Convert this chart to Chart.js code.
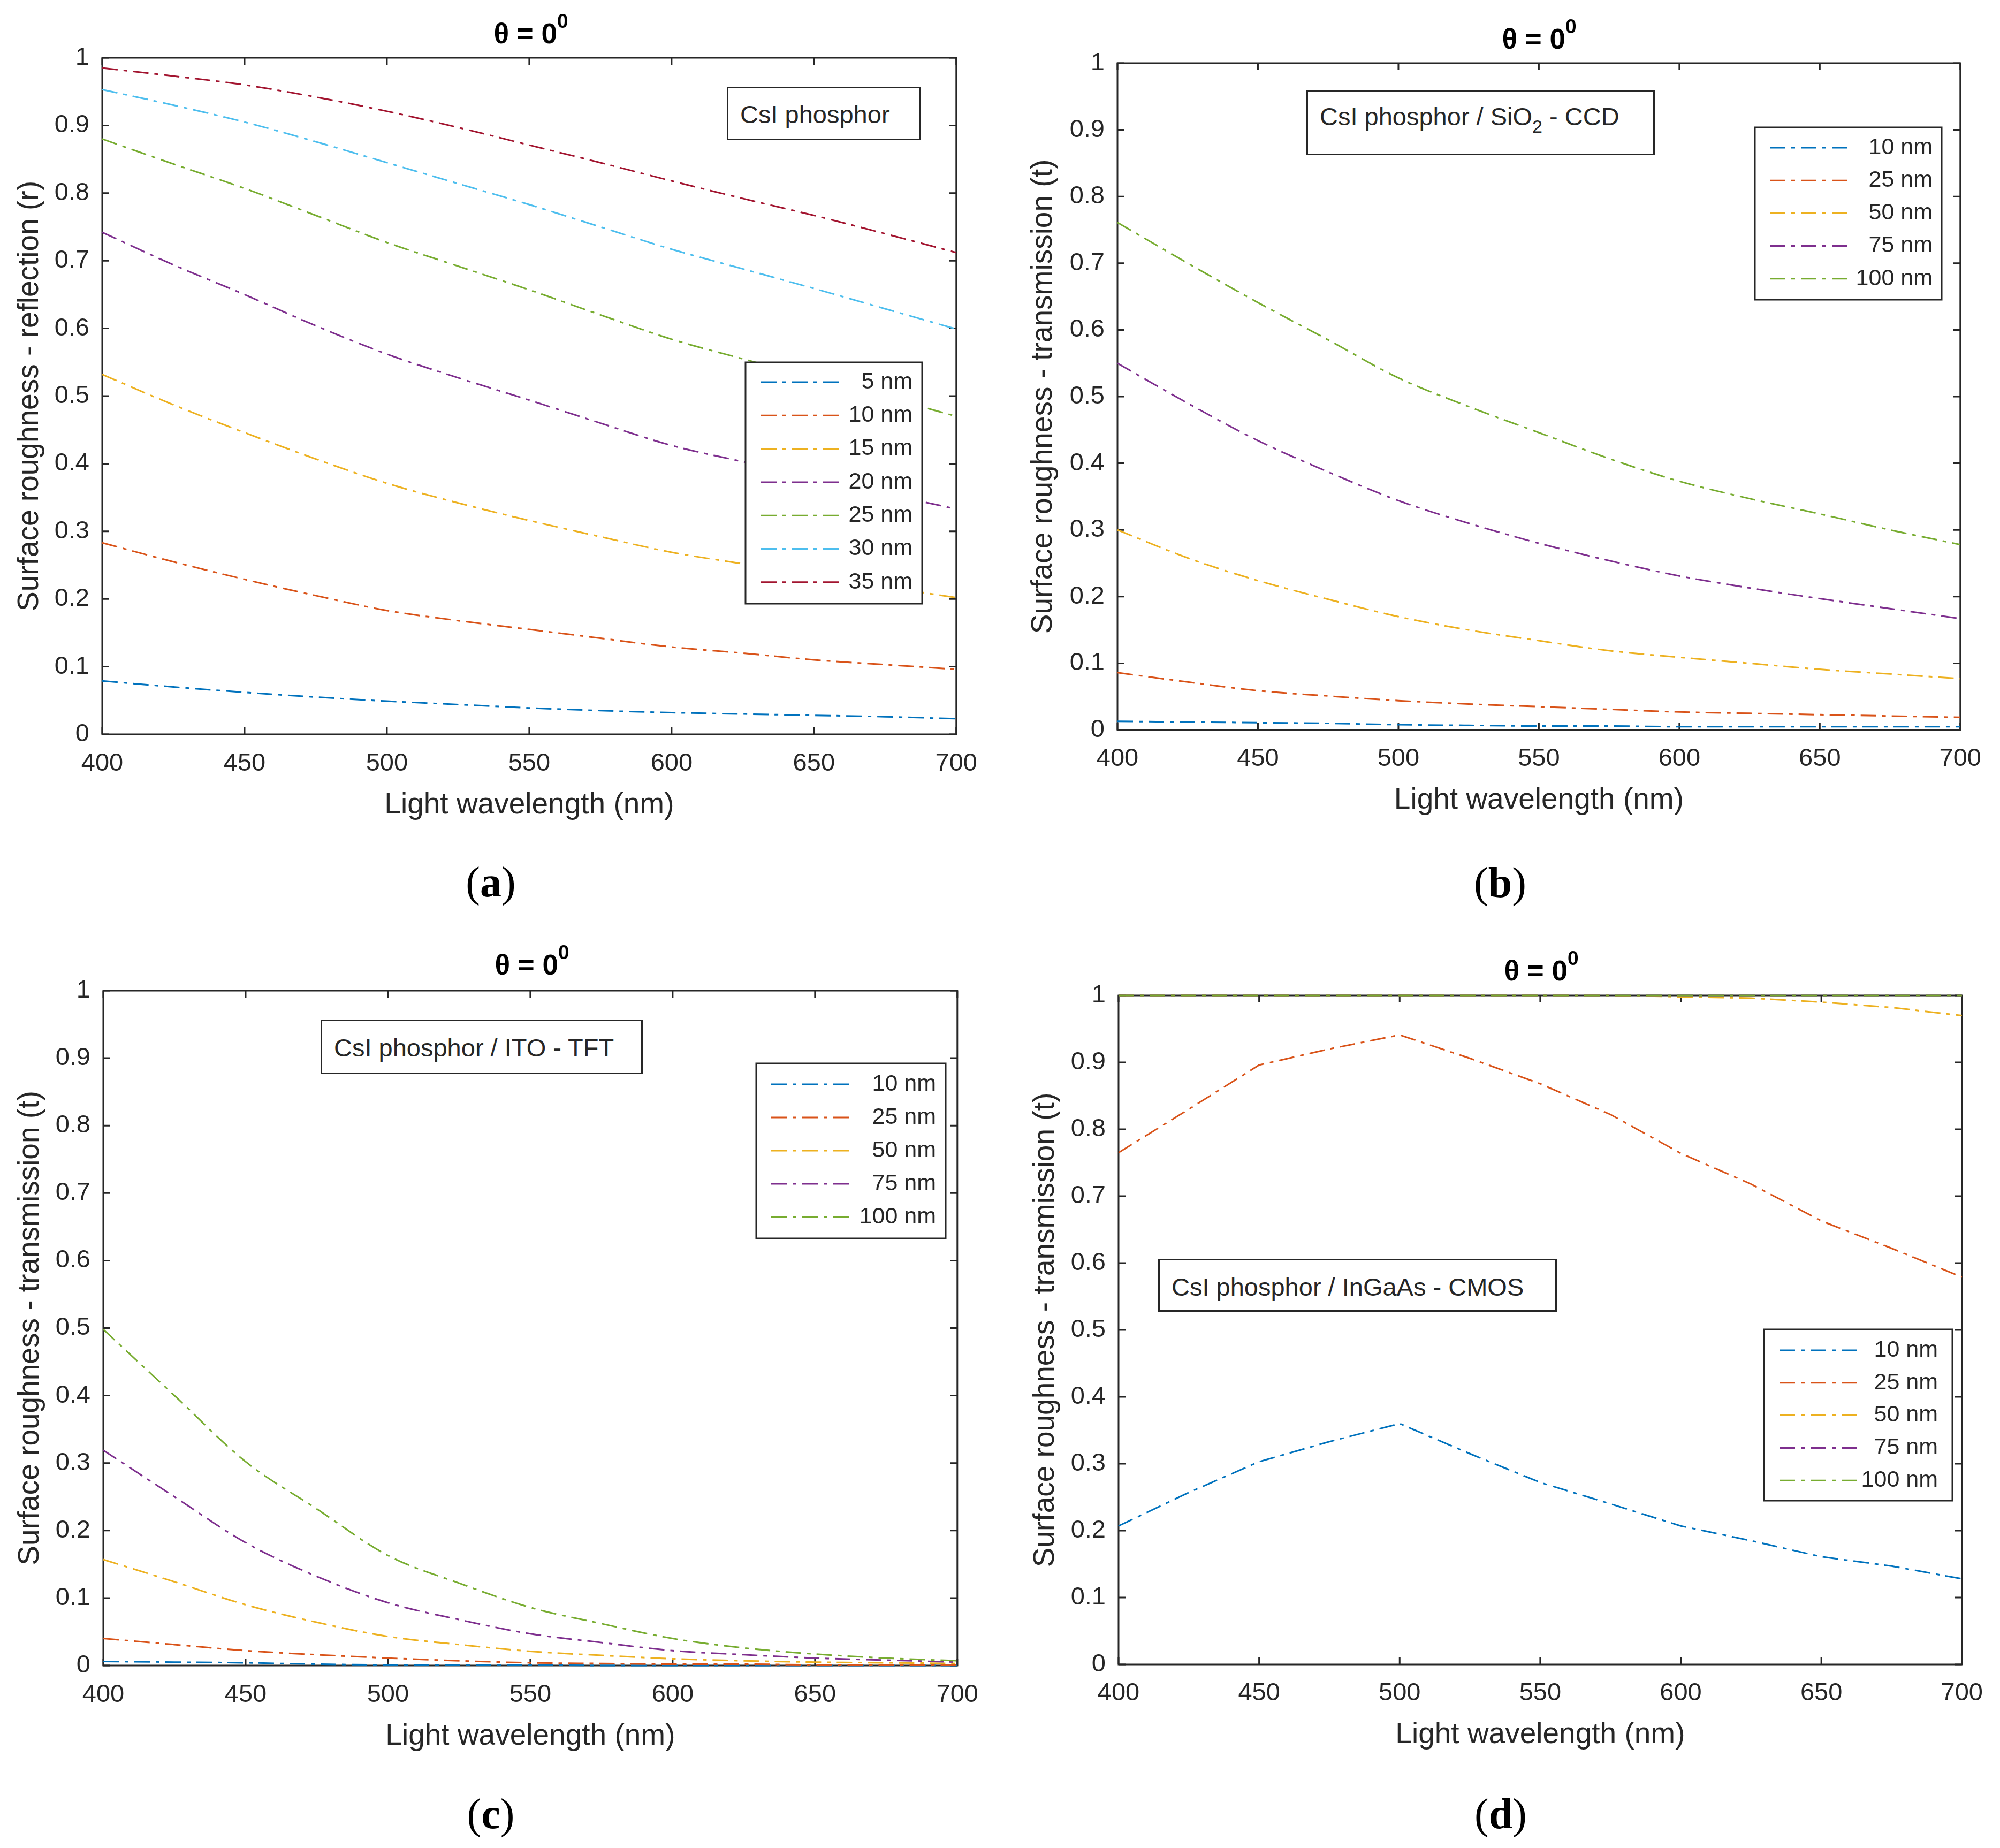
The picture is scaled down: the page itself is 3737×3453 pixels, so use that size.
<!DOCTYPE html>
<html>
<head>
<meta charset="utf-8">
<script src="https://cdn.jsdelivr.net/npm/chart.js@4.4.1/dist/chart.umd.min.js"></script>
<style>
html,body{margin:0;padding:0;background:#fff;}
#page{position:relative;width:3737px;height:3453px;background:#fff;overflow:hidden;font-family:"Liberation Sans",Arial,Helvetica,sans-serif;}
#page canvas{position:absolute;}
.title{position:absolute;transform:translate(-50%,-50%);font-weight:bold;font-size:53px;line-height:1;color:#000;white-space:nowrap;}
.title .sup{position:relative;top:-29px;font-size:37px;}
.note{position:absolute;border:3px solid #262626;background:#fff;box-sizing:border-box;z-index:2;}
.note span{position:absolute;left:22px;transform:translateY(-50%);font-size:47px;line-height:1;color:#262626;white-space:nowrap;}
.note sub{font-size:34px;vertical-align:baseline;position:relative;top:14px;}
.cap{position:absolute;transform:translate(-50%,-50%);font-family:"Liberation Serif","Times New Roman",serif;font-size:80px;line-height:1;color:#000;white-space:nowrap;}
</style>
</head>
<body>
<div id="page">
  <div class="title" style="left:992px;top:62px;">&theta; = 0<span class="sup">0</span></div>
  <div class="title" style="left:2876px;top:72px;">&theta; = 0<span class="sup">0</span></div>
  <div class="title" style="left:994px;top:1802px;">&theta; = 0<span class="sup">0</span></div>
  <div class="title" style="left:2880px;top:1813px;">&theta; = 0<span class="sup">0</span></div>

  <div class="note" style="left:1358px;top:162px;width:363px;height:100px;"><span style="top:48px;">CsI phosphor</span></div>
  <div class="note" style="left:2441px;top:168px;width:651px;height:122px;"><span style="top:46px;">CsI phosphor / SiO<sub>2</sub> - CCD</span></div>
  <div class="note" style="left:599px;top:1905px;width:602px;height:102px;"><span style="top:49px;">CsI phosphor / ITO - TFT</span></div>
  <div class="note" style="left:2164px;top:2352px;width:745px;height:99px;"><span style="top:49px;">CsI phosphor / InGaAs - CMOS</span></div>

  <div class="cap" style="left:917px;top:1648px;">(<b>a</b>)</div>
  <div class="cap" style="left:2803px;top:1649px;">(<b>b</b>)</div>
  <div class="cap" style="left:917px;top:3389px;">(<b>c</b>)</div>
  <div class="cap" style="left:2804px;top:3389px;">(<b>d</b>)</div>
</div>
<script>
// ---------------- DATA ----------------
const wavelengths = [400,425,450,475,500,525,550,575,600,625,650,675,700];
const xTickValues = [400,450,500,550,600,650,700];
const xTickLabels = ['400','450','500','550','600','650','700'];
const yTickValues = [0,0.1,0.2,0.3,0.4,0.5,0.6,0.7,0.8,0.9,1];
const yTickLabels = ['0','0.1','0.2','0.3','0.4','0.5','0.6','0.7','0.8','0.9','1'];

// (a) CsI phosphor - reflection
const aLabels = ['5 nm','10 nm','15 nm','20 nm','25 nm','30 nm','35 nm'];
const a5  = [0.079,0.070,0.062,0.055,0.049,0.044,0.039,0.035,0.032,0.030,0.028,0.026,0.023];
const a10 = [0.283,0.255,0.229,0.205,0.183,0.168,0.155,0.142,0.129,0.120,0.110,0.103,0.096];
const a15 = [0.532,0.487,0.446,0.407,0.371,0.342,0.316,0.292,0.269,0.252,0.235,0.218,0.202];
const a20 = [0.742,0.694,0.650,0.604,0.562,0.527,0.494,0.460,0.427,0.403,0.380,0.356,0.333];
const a25 = [0.880,0.843,0.807,0.767,0.727,0.692,0.657,0.620,0.584,0.555,0.527,0.499,0.470];
const a30 = [0.953,0.930,0.905,0.876,0.845,0.814,0.783,0.750,0.717,0.688,0.659,0.629,0.599];
const a35 = [0.985,0.973,0.960,0.942,0.921,0.897,0.871,0.845,0.818,0.792,0.767,0.740,0.712];

// (b) CsI phosphor / SiO2 - CCD
const tLabels = ['10 nm','25 nm','50 nm','75 nm','100 nm'];
const b10  = [0.013,0.012,0.011,0.010,0.008,0.007,0.006,0.006,0.005,0.005,0.005,0.005,0.005];
const b25  = [0.086,0.072,0.059,0.051,0.044,0.039,0.035,0.031,0.027,0.025,0.023,0.021,0.019];
const b50  = [0.300,0.258,0.224,0.196,0.170,0.150,0.134,0.119,0.109,0.100,0.091,0.084,0.077];
const b75  = [0.550,0.490,0.434,0.387,0.344,0.310,0.280,0.254,0.231,0.213,0.197,0.182,0.167];
const b100 = [0.761,0.700,0.641,0.585,0.528,0.485,0.446,0.407,0.373,0.347,0.324,0.300,0.278];

// (c) CsI phosphor / ITO - TFT
const c10  = [0.006,0.005,0.004,0.002,0.001,0.001,0.001,0.000,0.000,0.000,0.000,0.000,0.000];
const c25  = [0.040,0.031,0.022,0.016,0.011,0.007,0.004,0.003,0.002,0.002,0.001,0.001,0.001];
const c50  = [0.157,0.124,0.090,0.064,0.043,0.031,0.021,0.015,0.010,0.007,0.005,0.004,0.003];
const c75  = [0.319,0.250,0.182,0.132,0.093,0.068,0.047,0.034,0.022,0.016,0.011,0.008,0.005];
const c100 = [0.498,0.400,0.302,0.232,0.163,0.122,0.086,0.062,0.040,0.026,0.017,0.011,0.007];

// (d) CsI phosphor / InGaAs - CMOS
const d10  = [0.207,0.257,0.303,0.333,0.360,0.315,0.272,0.240,0.207,0.185,0.161,0.147,0.128];
const d25  = [0.765,0.830,0.896,0.920,0.941,0.906,0.868,0.822,0.764,0.718,0.663,0.622,0.579];
const d50  = [1,1,1,1,1,1,1,1,0.998,0.996,0.990,0.982,0.970];
const d75  = [1,1,1,1,1,1,1,1,1,1,1,1,1];
const d100 = [1,1,1,1,1,1,1,1,1,1,1,1,1];

const seriesColors = ['#0072BD','#D95319','#EDB120','#7E2F8E','#77AC30','#4DBEEE','#A2142F'];

// ---------------- LAYOUT (page pixels) ----------------
const FONT = '"Liberation Sans", Arial, Helvetica, sans-serif';
const panels = [
  {plot:[191,108,1793,1372], yTitleX:56, xTitleY:1505, xPad:27, smooth:true,
   yTitle:'Surface roughness - reflection (r)', labels:aLabels, series:[a5,a10,a15,a20,a25,a30,a35],
   legend:{box:[1393,677,1723,1128], row0:714, dy:62.3, line:[1422,1569], textRight:1705}},
  {plot:[2088,118,3668,1364], yTitleX:1950, xTitleY:1496, xPad:26, smooth:true,
   yTitle:'Surface roughness - transmission (t)', labels:tLabels, series:[b10,b25,b50,b75,b100],
   legend:{box:[3279,238,3628,560], row0:276, dy:61.2, line:[3307,3451], textRight:3611}},
  {plot:[193,1851,1795,3112], yTitleX:57, xTitleY:3245, xPad:27, smooth:true,
   yTitle:'Surface roughness - transmission (t)', labels:tLabels, series:[c10,c25,c50,c75,c100],
   legend:{box:[1413,1987,1767,2314], row0:2026, dy:62, line:[1441,1587], textRight:1749}},
  {plot:[2090,1860,3671,3110], yTitleX:1954, xTitleY:3242, xPad:26, smooth:false,
   yTitle:'Surface roughness - transmission (t)', labels:tLabels, series:[d10,d25,d50,d75,d100],
   legend:{box:[3296,2484,3648,2804], row0:2523, dy:60.8, line:[3325,3470], textRight:3621}}
];

// ---------------- PLUGINS ----------------
const boxPlugin = {
  id:'matlabBox',
  beforeDatasetsDraw(chart){
    const {ctx, chartArea:a, scales:{x, y}} = chart;
    const tl = 13;
    ctx.save();
    ctx.strokeStyle = '#262626';
    ctx.lineWidth = 3;
    ctx.setLineDash([]);
    ctx.strokeRect(a.left, a.top, a.right - a.left, a.bottom - a.top);
    ctx.beginPath();
    x.ticks.forEach(t => {
      const px = x.getPixelForValue(t.value);
      ctx.moveTo(px, a.bottom); ctx.lineTo(px, a.bottom - tl);
      ctx.moveTo(px, a.top); ctx.lineTo(px, a.top + tl);
    });
    y.ticks.forEach(t => {
      const py = y.getPixelForValue(t.value);
      ctx.moveTo(a.left, py); ctx.lineTo(a.left + tl, py);
      ctx.moveTo(a.right, py); ctx.lineTo(a.right - tl, py);
    });
    ctx.stroke();
    ctx.restore();
  }
};

const legendPlugin = {
  id:'matlabLegend',
  afterDraw(chart, args, opts){
    const ctx = chart.ctx;
    const ox = opts.ox, oy = opts.oy;
    const b = opts.box;
    const x0 = b[0]-ox, y0 = b[1]-oy, x1 = b[2]-ox, y1 = b[3]-oy;
    ctx.save();
    ctx.fillStyle = '#ffffff';
    ctx.fillRect(x0, y0, x1-x0, y1-y0);
    ctx.setLineDash([]);
    ctx.lineWidth = 3;
    ctx.strokeStyle = '#262626';
    ctx.strokeRect(x0, y0, x1-x0, y1-y0);
    chart.data.datasets.forEach((ds, i) => {
      const yy = opts.row0 - oy + i*opts.dy;
      ctx.beginPath();
      ctx.setLineDash(ds.borderDash);
      ctx.lineWidth = ds.borderWidth;
      ctx.strokeStyle = ds.borderColor;
      ctx.moveTo(opts.line[0]-ox, yy);
      ctx.lineTo(opts.line[1]-ox, yy);
      ctx.stroke();
      ctx.setLineDash([]);
      ctx.fillStyle = '#262626';
      ctx.font = '43px ' + FONT;
      ctx.textAlign = 'right';
      ctx.textBaseline = 'middle';
      ctx.fillText(ds.label, opts.textRight-ox, yy);
    });
    ctx.restore();
  }
};

// ---------------- BUILD ----------------
Chart.defaults.font.family = FONT;
const page = document.getElementById('page');

panels.forEach(p => {
  const [L,T,R,B] = p.plot;
  const cx0 = p.yTitleX - 37, cy0 = T - 60, cx1 = R + 60, cy1 = p.xTitleY + 37;
  const cv = document.createElement('canvas');
  cv.width = cx1 - cx0; cv.height = cy1 - cy0;
  cv.style.left = cx0 + 'px'; cv.style.top = cy0 + 'px';
  cv.style.width = cv.width + 'px'; cv.style.height = cv.height + 'px';
  page.insertBefore(cv, page.firstChild);
  const n = p.series.length;
  new Chart(cv, {
    type:'line',
    data:{
      datasets: p.series.map((vals, i) => ({
        label: p.labels[i],
        data: wavelengths.map((w, k) => ({x:w, y:vals[k]})),
        borderColor: seriesColors[i],
        backgroundColor: seriesColors[i],
        borderWidth: 3,
        borderDash: [29,11,7,11],
        pointRadius: 0,
        fill: false,
        clip: false,
        order: n - 1 - i,
        tension: 0,
        cubicInterpolationMode: p.smooth ? 'monotone' : 'default'
      }))
    },
    options:{
      responsive:false, animation:false, devicePixelRatio:1,
      events:[],
      layout:{padding:{left:0, top:T - cy0, right:cx1 - R, bottom:0}},
      plugins:{
        legend:{display:false}, tooltip:{enabled:false}, title:{display:false},
        matlabLegend:Object.assign({ox:cx0, oy:cy0}, p.legend)
      },
      scales:{
        x:{
          type:'linear', min:400, max:700,
          grid:{display:false, drawTicks:false}, border:{display:false},
          afterBuildTicks: s => { s.ticks = xTickValues.map(v => ({value:v})); },
          ticks:{callback:(v,i) => xTickLabels[i], font:{size:47}, color:'#262626', padding:p.xPad, maxRotation:0, autoSkip:false},
          title:{display:true, text:'Light wavelength (nm)', font:{size:55}, color:'#262626', padding:{top:0, bottom:4}},
          afterFit: s => { s.height = cy1 - B; }
        },
        y:{
          type:'linear', min:0, max:1,
          grid:{display:false, drawTicks:false}, border:{display:false},
          afterBuildTicks: s => { s.ticks = yTickValues.map(v => ({value:v})); },
          ticks:{callback:(v,i) => yTickLabels[i], font:{size:47}, color:'#262626', padding:24, autoSkip:false},
          title:{display:true, text:p.yTitle, font:{size:55}, color:'#262626', padding:{top:4, bottom:0}},
          afterFit: s => { s.width = L - cx0; }
        }
      }
    },
    plugins:[boxPlugin, legendPlugin]
  });
});
</script>
</body>
</html>
